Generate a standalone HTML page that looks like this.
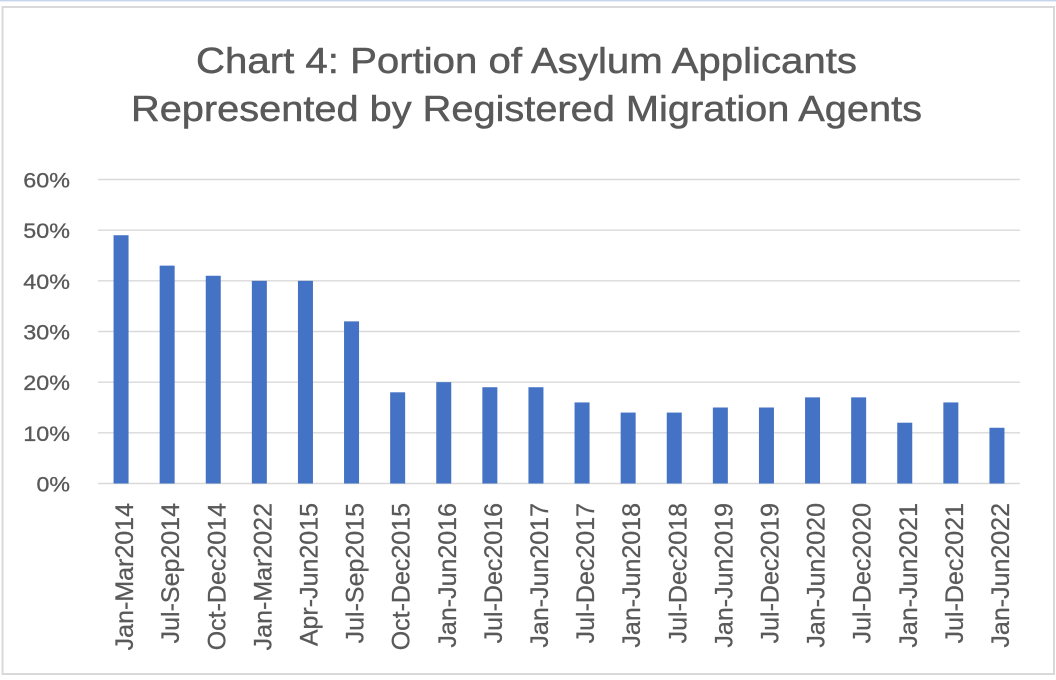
<!DOCTYPE html>
<html>
<head>
<meta charset="utf-8">
<style>
  html, body { margin: 0; padding: 0; background: #ffffff; }
  svg { display: block; }
  text { font-family: "Liberation Sans", Arial, sans-serif; fill: #595959; }
</style>
</head>
<body>
<svg width="1056" height="680" viewBox="0 0 1056 680" xmlns="http://www.w3.org/2000/svg">
  <rect x="0" y="0" width="1056" height="680" fill="#ffffff"/>
  <rect x="0" y="0" width="1056" height="1.4" fill="#c8d4ec"/>
  <rect x="2.5" y="7" width="1051.5" height="667" fill="#ffffff" stroke="#d9d9d9" stroke-width="2"/>

  <!-- Title -->
  <g stroke="#595959" stroke-width="0.5">
  <text x="196" y="73" font-size="36" textLength="661" lengthAdjust="spacingAndGlyphs">Chart 4: Portion of Asylum Applicants</text>
  <text x="131" y="121" font-size="36" textLength="791" lengthAdjust="spacingAndGlyphs">Represented by Registered Migration Agents</text>
  </g>

  <!-- Gridlines -->
  <g stroke="#d9d9d9" stroke-width="1.4">
    <line x1="98" x2="1020" y1="179.5" y2="179.5"/>
    <line x1="98" x2="1020" y1="230.2" y2="230.2"/>
    <line x1="98" x2="1020" y1="280.8" y2="280.8"/>
    <line x1="98" x2="1020" y1="331.5" y2="331.5"/>
    <line x1="98" x2="1020" y1="382.2" y2="382.2"/>
    <line x1="98" x2="1020" y1="432.8" y2="432.8"/>
    <line x1="98" x2="1020" y1="483.5" y2="483.5"/>
  </g>

  <!-- Y labels -->
  <g font-size="21.4" text-anchor="end" stroke="#595959" stroke-width="0.3">
    <text x="70" y="187.5" textLength="46.7" lengthAdjust="spacingAndGlyphs">60%</text>
    <text x="70" y="238.2" textLength="46.7" lengthAdjust="spacingAndGlyphs">50%</text>
    <text x="70" y="288.8" textLength="46.7" lengthAdjust="spacingAndGlyphs">40%</text>
    <text x="70" y="339.5" textLength="46.7" lengthAdjust="spacingAndGlyphs">30%</text>
    <text x="70" y="390.2" textLength="46.7" lengthAdjust="spacingAndGlyphs">20%</text>
    <text x="70" y="440.8" textLength="46.7" lengthAdjust="spacingAndGlyphs">10%</text>
    <text x="70" y="491.5" textLength="33.5" lengthAdjust="spacingAndGlyphs">0%</text>
  </g>

  <!-- Bars -->
  <g fill="#4472c4">
    <rect x="113.55" y="235.23" width="15" height="248.27"/>
    <rect x="159.65" y="265.63" width="15" height="217.87"/>
    <rect x="205.75" y="275.77" width="15" height="207.73"/>
    <rect x="251.85" y="280.83" width="15" height="202.67"/>
    <rect x="297.95" y="280.83" width="15" height="202.67"/>
    <rect x="344.05" y="321.37" width="15" height="162.13"/>
    <rect x="390.15" y="392.30" width="15" height="91.20"/>
    <rect x="436.25" y="382.17" width="15" height="101.33"/>
    <rect x="482.35" y="387.23" width="15" height="96.27"/>
    <rect x="528.45" y="387.23" width="15" height="96.27"/>
    <rect x="574.55" y="402.43" width="15" height="81.07"/>
    <rect x="620.65" y="412.57" width="15" height="70.93"/>
    <rect x="666.75" y="412.57" width="15" height="70.93"/>
    <rect x="712.85" y="407.50" width="15" height="76.00"/>
    <rect x="758.95" y="407.50" width="15" height="76.00"/>
    <rect x="805.05" y="397.37" width="15" height="86.13"/>
    <rect x="851.15" y="397.37" width="15" height="86.13"/>
    <rect x="897.25" y="422.70" width="15" height="60.80"/>
    <rect x="943.35" y="402.43" width="15" height="81.07"/>
    <rect x="989.45" y="427.77" width="15" height="55.73"/>
  </g>

  <!-- X labels -->
  <g font-size="25" text-anchor="end" stroke="#595959" stroke-width="0.3">
    <text transform="translate(133.05,503) rotate(-90)">Jan-Mar2014</text>
    <text transform="translate(179.15,503) rotate(-90)">Jul-Sep2014</text>
    <text transform="translate(225.25,503) rotate(-90)">Oct-Dec2014</text>
    <text transform="translate(271.35,503) rotate(-90)">Jan-Mar2022</text>
    <text transform="translate(317.45,503) rotate(-90)">Apr-Jun2015</text>
    <text transform="translate(363.55,503) rotate(-90)">Jul-Sep2015</text>
    <text transform="translate(409.65,503) rotate(-90)">Oct-Dec2015</text>
    <text transform="translate(455.75,503) rotate(-90)">Jan-Jun2016</text>
    <text transform="translate(501.85,503) rotate(-90)">Jul-Dec2016</text>
    <text transform="translate(547.95,503) rotate(-90)">Jan-Jun2017</text>
    <text transform="translate(594.05,503) rotate(-90)">Jul-Dec2017</text>
    <text transform="translate(640.15,503) rotate(-90)">Jan-Jun2018</text>
    <text transform="translate(686.25,503) rotate(-90)">Jul-Dec2018</text>
    <text transform="translate(732.35,503) rotate(-90)">Jan-Jun2019</text>
    <text transform="translate(778.45,503) rotate(-90)">Jul-Dec2019</text>
    <text transform="translate(824.55,503) rotate(-90)">Jan-Jun2020</text>
    <text transform="translate(870.65,503) rotate(-90)">Jul-Dec2020</text>
    <text transform="translate(916.75,503) rotate(-90)">Jan-Jun2021</text>
    <text transform="translate(962.85,503) rotate(-90)">Jul-Dec2021</text>
    <text transform="translate(1008.95,503) rotate(-90)">Jan-Jun2022</text>
  </g>
</svg>
</body>
</html>
